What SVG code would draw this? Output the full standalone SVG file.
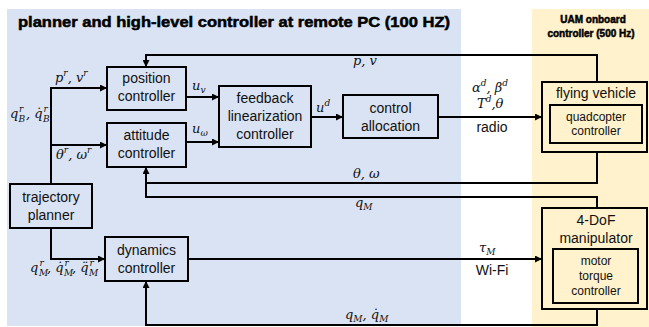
<svg xmlns="http://www.w3.org/2000/svg" width="649" height="327" viewBox="0 0 649 327">
<style>
.box{fill:none;stroke:#000;stroke-width:2}
.t{font-family:"Liberation Sans",Arial,sans-serif;font-size:14px;fill:#111;text-anchor:middle}
.ts{font-family:"Liberation Sans",Arial,sans-serif;font-size:12px;fill:#111;text-anchor:middle}
.m{font-family:"DejaVu Serif","Liberation Serif",serif;font-style:italic;font-size:13px;fill:#111}
.s{font-size:9px}
.c{fill:none;stroke:#000;stroke-width:2}
.h{font-family:"Liberation Sans",Arial,sans-serif;font-weight:bold;fill:#000;stroke:#000;stroke-width:0.5}
</style>
<defs>
<marker id="a" markerUnits="userSpaceOnUse" markerWidth="7" markerHeight="7" refX="7" refY="3.5" orient="auto">
<path d="M0,0 L7,3.5 L0,7 z" fill="#000"/>
</marker>
</defs>
<rect x="7" y="9" width="454" height="317" fill="#dae3f3"/>
<rect x="532" y="9" width="117" height="318" fill="#fff2cc"/>
<text class="h" x="18" y="27" font-size="14.5" textLength="432" lengthAdjust="spacingAndGlyphs">planner and high-level controller at remote PC (100 HZ)</text>
<text class="h" x="593" y="23" font-size="10" text-anchor="middle">UAM onboard</text>
<text class="h" x="591" y="37" font-size="10" text-anchor="middle">controller (500 Hz)</text>

<g id="connectors">
<path class="c" d="M597,81 V55 H146 V67" marker-end="url(#a)"/>
<path class="c" d="M51,184 V88 H107" marker-end="url(#a)"/>
<path class="c" d="M51,145 H107" marker-end="url(#a)"/>
<path class="c" d="M186,97 H219" marker-end="url(#a)"/>
<path class="c" d="M186,142 H219" marker-end="url(#a)"/>
<path class="c" d="M311,117 H343" marker-end="url(#a)"/>
<path class="c" d="M438,117 H542" marker-end="url(#a)"/>
<path class="c" d="M597,152 V183 H146"/>
<path class="c" d="M597,208 V197 H146 V167" marker-end="url(#a)"/>
<path class="c" d="M51,228 V259 H105" marker-end="url(#a)"/>
<path class="c" d="M188,259 H542" marker-end="url(#a)"/>
<path class="c" d="M597,309 V325 H146 V281" marker-end="url(#a)"/>
<text class="m" x="55" y="82">p<tspan class="s" dy="-6">r</tspan><tspan dy="6">, v</tspan><tspan class="s" dy="-6">r</tspan></text>
<text class="m" x="10" y="118">q<tspan class="s" x="19" y="112">r</tspan><tspan class="s" x="18.5" y="122">B</tspan><tspan x="26" y="118">, q̇</tspan><tspan class="s" x="43.5" y="112">r</tspan><tspan class="s" x="43" y="122">B</tspan></text>
<text class="m" x="56" y="159">θ<tspan class="s" dy="-6">r</tspan><tspan dy="6">, ω</tspan><tspan class="s" dy="-6">r</tspan></text>
<text class="m" x="192" y="90">u<tspan class="s" dy="3">v</tspan></text>
<text class="m" x="192" y="133">u<tspan class="s" dy="3">ω</tspan></text>
<text class="m" x="316" y="112">u<tspan class="s" dy="-6">d</tspan></text>
<text class="m" x="353" y="65">p, v</text>
<text class="m" x="472" y="92">α<tspan class="s" dy="-6">d</tspan><tspan dy="6">, β</tspan><tspan class="s" dy="-6">d</tspan></text>
<text class="m" x="477" y="108">T<tspan class="s" dy="-6">d</tspan><tspan dy="6">,θ</tspan></text>
<text class="t" x="492" y="132">radio</text>
<text class="m" x="353" y="178">θ, ω</text>
<text class="m" x="355" y="207">q<tspan class="s" dy="3">M</tspan></text>
<text class="m" x="479" y="252">τ<tspan class="s" dy="3">M</tspan></text>
<text class="t" x="492" y="275">Wi-Fi</text>
<text class="m" x="345" y="319">q<tspan class="s" dy="3">M</tspan><tspan dy="-3">, q̇</tspan><tspan class="s" dy="3">M</tspan></text>
<text class="m" x="30" y="272">q<tspan class="s" x="39.5" y="266">r</tspan><tspan class="s" x="39" y="276">M</tspan><tspan x="47" y="272">, q̇</tspan><tspan class="s" x="64.5" y="266">r</tspan><tspan class="s" x="64" y="276">M</tspan><tspan x="72" y="272">, q̈</tspan><tspan class="s" x="89.5" y="266">r</tspan><tspan class="s" x="89" y="276">M</tspan></text>
</g>

<g id="position-controller">
<rect class="box" x="107" y="67" width="79" height="43"/>
<text class="t" x="146.5" y="83">position</text>
<text class="t" x="146.5" y="101">controller</text>
</g>
<g id="attitude-controller">
<rect class="box" x="107" y="123" width="79" height="44"/>
<text class="t" x="146.5" y="140">attitude</text>
<text class="t" x="146.5" y="158">controller</text>
</g>
<g id="feedback-linearization-controller">
<rect class="box" x="219" y="86" width="92" height="61"/>
<text class="t" x="265" y="103">feedback</text>
<text class="t" x="265" y="121">linearization</text>
<text class="t" x="265" y="139">controller</text>
</g>
<g id="control-allocation">
<rect class="box" x="343" y="95" width="95" height="43"/>
<text class="t" x="390.5" y="113">control</text>
<text class="t" x="390.5" y="131">allocation</text>
</g>
<g id="trajectory-planner">
<rect class="box" x="10" y="184" width="82" height="44"/>
<text class="t" x="51" y="202">trajectory</text>
<text class="t" x="51" y="220">planner</text>
</g>
<g id="dynamics-controller">
<rect class="box" x="105" y="237" width="83" height="44"/>
<text class="t" x="146.5" y="255">dynamics</text>
<text class="t" x="146.5" y="273">controller</text>
</g>
<g id="flying-vehicle">
<rect class="box" x="542" y="82" width="105" height="70"/>
<text class="t" x="596" y="98">flying vehicle</text>
</g>
<g id="quadcopter-controller">
<rect class="box" x="550" y="105" width="92" height="38"/>
<text class="ts" x="596" y="121">quadcopter</text>
<text class="ts" x="596" y="135">controller</text>
</g>
<g id="manipulator">
<rect class="box" x="542" y="208" width="105" height="101"/>
<text class="t" x="596" y="225">4-DoF</text>
<text class="t" x="596" y="243">manipulator</text>
</g>
<g id="motor-torque-controller">
<rect class="box" x="553" y="249" width="85" height="54"/>
<text class="ts" x="596" y="265">motor</text>
<text class="ts" x="596" y="280">torque</text>
<text class="ts" x="596" y="295">controller</text>
</g>
</svg>
